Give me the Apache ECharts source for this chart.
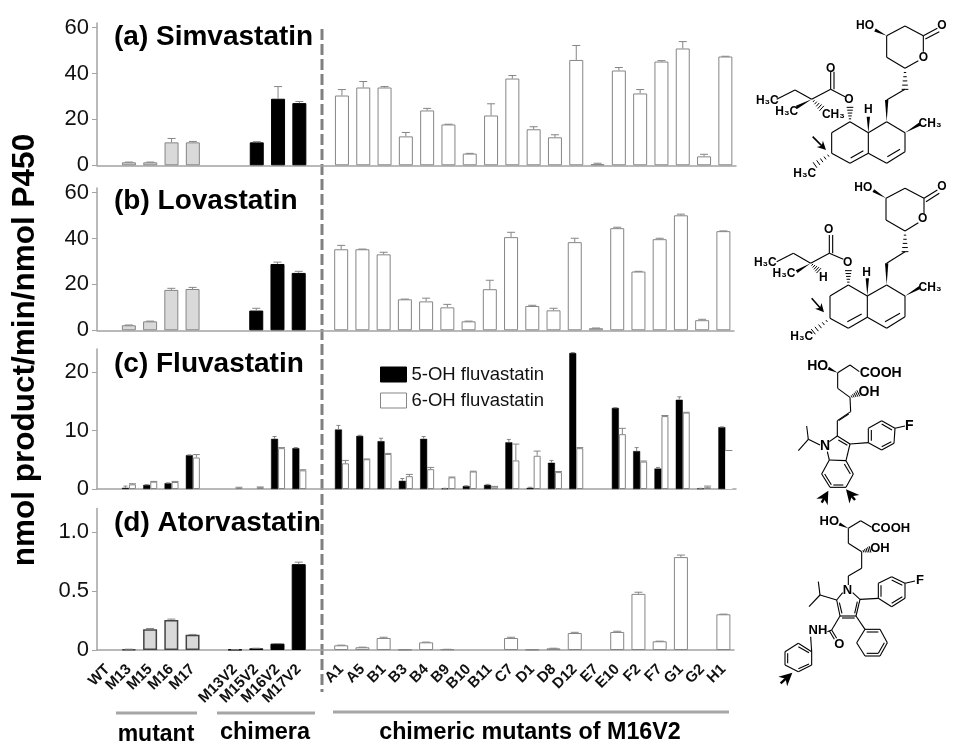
<!DOCTYPE html>
<html><head><meta charset="utf-8">
<style>html,body{margin:0;padding:0;background:#fff}#c{width:966px;height:754px}</style>
<script src="https://cdn.jsdelivr.net/npm/echarts@6/dist/echarts.min.js"></script>
</head><body><div id="c"></div>
<script>
const categories=['WT','M13','M15','M16','M17',' ','M13V2','M15V2','M16V2','M17V2',' ','A1','A5','B1','B3','B4','B9','B10','B11','C7','D1','D8','D12','E7','E10','F2','F7','G1','G2','H1'];
const simvastatin=[null,1.3,1.3,10,10,null,null,10,29,27.1,null,30.4,33.9,33.9,12.6,23.9,17.8,5.1,21.7,37.8,15.7,12.2,45.9,0.5,41.3,31.3,45.2,50.9,3.9,47.4];
const simvastatinTop=[null,1.4,1.4,11.7,10.4,null,null,10.3,34.3,27.8,null,33,36.5,34.3,14.3,24.8,17.9,5.2,26.8,39.1,16.8,13.3,52.2,0.9,42.6,33,45.6,53.9,4.8,47.5];
const lovastatin=[null,2.2,3.9,17.6,18,null,null,8.6,28.9,25,null,35.3,35.3,33.1,13.5,12.6,10,3.9,17.9,40.6,10.6,8.7,38.4,0.9,44.5,25.6,39.7,50.1,4.4,43.2];
const lovastatinTop=[null,2.3,4,18.3,18.7,null,null,9.6,29.7,25.7,null,37,35.4,34,13.6,14,11.3,4,21.8,42.7,10.9,9.6,40.1,1,44.9,25.7,40.1,50.6,4.8,43.3];
const fluva5OH=[null,0.2,0.7,1,5.8,null,null,null,8.6,7,null,10.2,9.1,8.2,1.4,8.6,0.1,0.5,0.7,8,0.2,4.5,23.3,null,13.9,6.5,3.5,15.3,0.1,10.6];
const fluva5OHTop=[null,0.5,0.75,1.05,5.85,null,null,null,9,7.1,null,10.9,9.2,8.7,1.8,9,0.12,0.55,0.8,8.5,0.3,4.9,23.4,null,13.95,7.1,3.7,15.8,0.12,10.65];
const fluva6OH=[null,0.8,1.25,1.2,5.4,null,0.2,0.3,7,3.2,null,4.4,5.1,6,2.2,3.4,2,3,0.4,4.9,5.7,2.9,7,null,9.4,4.7,12.5,13.1,0.3,6.6];
const fluva6OHTop=[null,0.9,1.3,1.3,5.9,null,0.3,0.35,7.1,3.3,null,4.9,5.15,6.1,2.5,3.7,2.05,3.05,0.45,7.7,6.5,3,7.1,null,10.4,4.8,12.6,13.15,0.5,6.6];
const atorvastatin=[null,0.006,0.176,0.255,0.13,null,0.003,0.014,0.054,0.728,null,0.04,0.023,0.102,0.003,0.065,0.006,null,null,0.102,0.003,0.014,0.144,null,0.153,0.476,0.074,0.788,null,0.303];
const atorvastatinTop=[null,0.007,0.182,0.262,0.132,null,0.003,0.015,0.055,0.745,null,0.041,0.024,0.108,0.003,0.067,0.006,null,null,0.108,0.003,0.015,0.15,null,0.159,0.49,0.075,0.805,null,0.304];

const FONT='"Liberation Sans",Arial,sans-serif';
const AXIS='#a3a3a3', EDGE='#858585';

const grids=[
 {left:97,width:639,top:23,height:142.3},
 {left:97,width:637,top:188,height:142.3},
 {left:97,width:639,top:349,height:140},
 {left:97,width:637,top:508.5,height:141.5}];
const yRanges=[{max:62,t:[0,20,40,60]},{max:62,t:[0,20,40,60]},{max:24,t:[0,10,20]},{max:1.2,t:[0,0.5,1]}];

const xAxes=grids.map((g,i)=>({gridIndex:i,type:'category',data:categories,
  axisLine:{lineStyle:{color:AXIS,width:1.5}},
  axisTick:{alignWithLabel:true,length:5,lineStyle:{color:AXIS,width:1}},
  axisLabel:i===3?{show:true,interval:0,rotate:45,fontFamily:FONT,fontSize:15,fontWeight:'bold',color:'#111',margin:17}:{show:false}}));
const yAxes=yRanges.map((r,i)=>({gridIndex:i,type:'value',min:0,max:r.max,splitLine:{show:false},
  axisLine:{show:true,lineStyle:{color:AXIS,width:1.5}},
  axisTick:{show:true,length:5,lineStyle:{color:AXIS,width:1},customValues:r.t},
  axisLabel:{fontFamily:FONT,fontSize:22,color:'#111',margin:8,customValues:r.t,
    formatter:v=>i===3&&v!==0?v.toFixed(1):String(v)}}));

function groupStyle(i,panel){
  if(i<5)return {color:'#d9d9d9',borderColor:panel===3?'#444':EDGE,borderWidth:panel===3?1.5:1};
  if(i<10)return {color:'#000',borderColor:'#000',borderWidth:1};
  return {color:'#fff',borderColor:EDGE,borderWidth:1};
}
function mixedBars(name,vals,panel){
  return {type:'bar',name,xAxisIndex:panel,yAxisIndex:panel,barWidth:14,
    data:vals.map((v,i)=>({value:v,itemStyle:groupStyle(i,panel)}))};
}
function errBars(name,vals,tops,panel,dx,cap){
  return {type:'custom',name,xAxisIndex:panel,yAxisIndex:panel,z:3,silent:true,
    encode:{x:0,y:[1,2]},
    data:vals.map((v,i)=>[i,v,tops[i]]).filter(d=>d[1]!=null),
    renderItem(p,api){
      const base=api.coord([api.value(0),api.value(1)]);
      const top=api.coord([api.value(0),api.value(2)]);
      const x=base[0]+dx,st={stroke:EDGE,lineWidth:1,fill:null};
      return {type:'group',children:[
        {type:'line',shape:{x1:x,y1:base[1],x2:x,y2:top[1]},style:st},
        {type:'line',shape:{x1:x-cap,y1:top[1],x2:x+cap,y2:top[1]},style:st}]};
    }};
}
const H1=categories.indexOf('H1');
const series=[
 mixedBars('Simvastatin',simvastatin,0),errBars('Simvastatin error',simvastatin,simvastatinTop,0,0,4),
 mixedBars('Lovastatin',lovastatin,1),errBars('Lovastatin error',lovastatin,lovastatinTop,1,0,4),
 {type:'bar',name:'5-OH fluvastatin',xAxisIndex:2,yAxisIndex:2,barWidth:7,barGap:'0%',data:fluva5OH,
   itemStyle:{color:'#000',borderColor:'#000',borderWidth:0.5}},
 {type:'bar',name:'6-OH fluvastatin',xAxisIndex:2,yAxisIndex:2,barWidth:7,barGap:'0%',
   data:fluva6OH.map((v,i)=>i===H1?{value:v,itemStyle:{color:'#fff',borderWidth:0}}:v),
   itemStyle:{color:'#fff',borderColor:EDGE,borderWidth:1}},
 errBars('5-OH error',fluva5OH,fluva5OHTop,2,-3.5,2),
 errBars('6-OH error',fluva6OH,fluva6OHTop,2,3.5,3.5),
 mixedBars('Atorvastatin',atorvastatin,3),errBars('Atorvastatin error',atorvastatin,atorvastatinTop,3,0,4)
];

/* ---- annotations and structure drawings (zoom-crop coordinates, 3x) ---- */
const gfx=[];
const K='#000';
function line(x1,y1,x2,y2,c,w,dash){gfx.push({type:'line',silent:true,shape:{x1,y1,x2,y2},style:{stroke:c,lineWidth:w,lineDash:dash}});}
function text(x,y,t,size,opt){gfx.push({type:'text',silent:true,x,y,rotation:(opt&&opt.rot)||0,style:{text:t,fill:(opt&&opt.c)||K,font:(opt&&opt.w||'bold')+' '+size+'px '+FONT,align:(opt&&opt.a)||'center',verticalAlign:'middle'}});}
function mol(ox,oy,m){
  const X=x=>ox+x/3,Y=y=>oy+y/3,hs=m.head||1;
  (m.paths||[]).forEach(p=>{for(let i=0;i+3<p.length;i+=2)line(X(p[i]),Y(p[i+1]),X(p[i+2]),Y(p[i+3]),K,1.1);});
  (m.wedges||[]).forEach(w=>{const dx=w[2]-w[0],dy=w[3]-w[1],l=Math.hypot(dx,dy),nx=-dy/l*5,ny=dx/l*5;
    gfx.push({type:'polygon',silent:true,shape:{points:[[X(w[0]),Y(w[1])],[X(w[2]+nx),Y(w[3]+ny)],[X(w[2]-nx),Y(w[3]-ny)]]},style:{fill:K}});});
  (m.hashes||[]).forEach(w=>{const dx=w[2]-w[0],dy=w[3]-w[1],l=Math.hypot(dx,dy),n=5;
    for(let i=1;i<=n;i++){const t=i/n,hw=(2+t*8),cx=w[0]+dx*t,cy=w[1]+dy*t,nx=-dy/l*hw,ny=dx/l*hw;
      line(X(cx+nx),Y(cy+ny),X(cx-nx),Y(cy-ny),K,1);}});
  (m.arrows||[]).forEach(a=>{const dx=a[2]-a[0],dy=a[3]-a[1],l=Math.hypot(dx,dy),ux=dx/l,uy=dy/l,L=26*hs,W=13*hs;
    line(X(a[0]),Y(a[1]),X(a[2]-ux*10),Y(a[3]-uy*10),K,1.6*hs);
    gfx.push({type:'polygon',silent:true,shape:{points:[[X(a[2]),Y(a[3])],[X(a[2]-ux*L-uy*W),Y(a[3]-uy*L+ux*W)],[X(a[2]-ux*L*.7),Y(a[3]-uy*L*.7)],[X(a[2]-ux*L+uy*W),Y(a[3]-uy*L-ux*W)]]},style:{fill:K}});});
  (m.labels||[]).forEach(l=>text(X(l[0]),Y(l[1]),l[2],l[3]||12));
}
// (a) simvastatin
mol(740,0,{paths:[
 [440,107,495,78,550,107,550,155],[440,107,440,172,495,205,535,182],[550,107,592,85],[556,117,598,95],
 [495,268,440,300],[440,365,495,398,495,455,440,490,385,460,385,398,440,365],[480,448,442,470],
 [385,460,330,490,275,460,275,398,330,365,385,398],[370,452,332,474],
 [315,290,272,268],[272,268,272,215],[282,268,282,215],[272,268,215,298,165,270,110,298]],
 wedges:[[440,107,405,90],[385,398,385,350],[495,398,540,372],[440,365,440,300],[215,298,170,322]],
 hashes:[[495,205,495,268],[330,365,330,322],[275,460,225,495],[215,298,245,325]],
 arrows:[[218,410,258,450]],
 labels:[[375,78,'HO'],[606,76,'O'],[550,172,'O'],[272,205,'O'],[327,300,'O'],[385,330,'H'],[570,370,'CH₃'],[280,345,'CH₃'],[82,302,'H₃C'],[140,335,'H₃C'],[194,520,'H₃C']]});
// (b) lovastatin
mol(740,0,{paths:[
 [438,595,495,565,552,595,552,640],[438,595,438,660,495,693,535,668],[552,595,592,570],[558,605,598,580],
 [495,755,440,790],[440,855,495,888,495,950,440,985,382,952,382,888,440,855],[480,940,435,965],
 [382,952,325,985,270,955,270,888,325,855,382,888],[365,942,322,965],
 [310,778,268,760],[268,760,268,705],[278,760,278,705],[268,760,212,790,160,760,110,785]],
 wedges:[[438,595,400,572],[382,888,382,835],[495,888,540,862],[440,855,440,790],[212,790,170,815]],
 hashes:[[495,693,495,755],[325,855,325,812],[270,955,220,995],[212,790,236,812]],
 arrows:[[215,895,252,937]],
 labels:[[370,562,'HO'],[606,561,'O'],[548,657,'O'],[266,690,'O'],[323,788,'O'],[380,818,'H'],[250,833,'H'],[570,862,'CH₃'],[76,787,'H₃C'],[132,820,'H₃C'],[185,1010,'H₃C']]});
// (c) fluvastatin
mol(740,350,{head:1.5,paths:[
 [293,68,330,45,358,65],[293,68,293,115,330,142,332,185,292,212,292,258],[326,192,296,212],
 [292,258,268,275],[292,258,330,282,318,332,268,330,262,305],[295,270,322,286],
 [268,330,245,372,270,412,318,412,340,372,318,332],[254,372,274,404],[280,405,310,405],[331,372,313,342],
 [240,285,205,268,200,228],[205,268,175,302],[330,282,385,278],
 [425,212,465,235,462,280,425,300,385,278,385,235,425,212],[425,222,456,240],[454,275,425,290],[394,272,394,240],
 [465,235,495,228]],
 wedges:[[293,68,265,55]],hashes:[[330,142,355,130]],
 arrows:[[245,458,265,422],[345,450,318,418]],
 labels:[[233,47,'HO',14],[422,68,'COOH',14],[387,127,'OH',14],[255,288,'N',14],[508,228,'F',14]]});
// (d) atorvastatin
mol(740,350,{head:1.5,paths:[
 [325,535,362,512,395,532],[325,535,325,580,365,605,365,655,325,678,325,705],
 [308,728,290,750,300,798,348,798,360,748,338,728],[298,758,306,790],[352,755,344,790],[306,804,344,804],
 [290,750,240,735,235,695],[240,735,207,770],[360,748,415,745],
 [455,680,495,700,495,745,455,770,415,745,415,700,455,680],[455,690,487,706],[487,740,455,760],[423,740,423,706],
 [495,700,525,693],[348,798,375,838],
 [375,838,420,838,442,878,420,918,375,918,350,878,375,838],[380,846,415,846],[433,878,415,910],[380,910,415,910],
 [300,798,275,840,262,845],[275,840,290,865],[268,842,283,868],
 [212,860,215,905],[215,905,175,880,135,905,135,945,175,965,215,945,215,905],[175,890,207,908],[207,942,175,956],[143,940,143,910]],
 wedges:[[325,535,298,522]],hashes:[[365,605,390,598]],
 arrows:[[122,1000,157,968]],
 labels:[[268,515,'HO',13],[452,535,'COOH',13],[420,595,'OH',13],[322,722,'N',13],[540,692,'F',13],[234,840,'NH',13],[298,882,'O',13]]});

// panel separator and group rules
line(322,29,322,692,'#808080',3,[11,4]);
line(116,713,197,713,'#a6a6a6',3);
line(217,713,315,713,'#a6a6a6',3);
line(333,712,729,712,'#a6a6a6',3);
text(156,735,'mutant',23);
text(265,733,'chimera',23.5);
text(530,733,'chimeric mutants of M16V2',23.3);
text(25,350,'nmol product/min/nmol P450',31.5,{rot:Math.PI/2});

const panelTitles=[['(a) Simvastatin',23],['(b) Lovastatin',187],['(c) Fluvastatin',350],['(d) Atorvastatin',509]];
const chart=echarts.init(document.getElementById('c'),null,{renderer:'canvas',width:966,height:754});
chart.setOption({animation:false,backgroundColor:'#fff',
  title:panelTitles.map(t=>({text:t[0],left:114,top:t[1],padding:0,textStyle:{fontFamily:FONT,fontWeight:'bold',fontSize:28,color:'#000'}})),
  legend:{data:['5-OH fluvastatin','6-OH fluvastatin'],orient:'vertical',left:380,top:365,padding:0,itemWidth:26,itemHeight:15,itemGap:7,icon:'rect',selectedMode:false,
    itemStyle:{borderWidth:1},
    textStyle:{fontFamily:FONT,fontSize:18.5,color:'#111'}},
  grid:grids,xAxis:xAxes,yAxis:yAxes,series,graphic:{elements:gfx}});
</script></body></html>
